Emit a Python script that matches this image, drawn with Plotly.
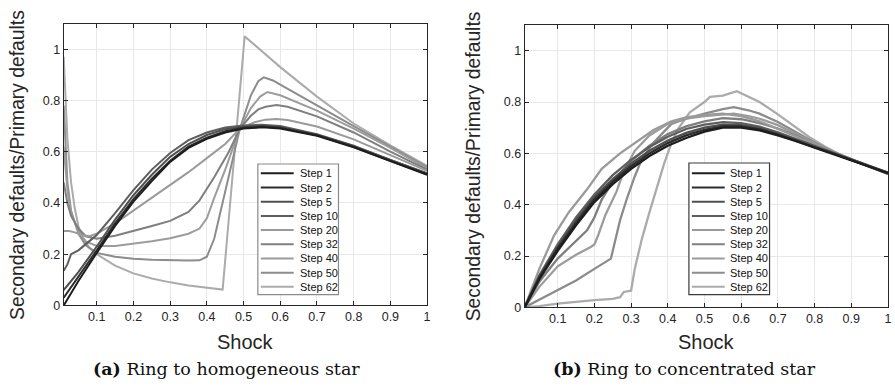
import plotly.graph_objects as go

W, H = 895, 390

STEPS = ["Step 1", "Step 2", "Step 5", "Step 10", "Step 20", "Step 32", "Step 40", "Step 50", "Step 62"]
COLORS = ["#1e1e1e", "#2c2c2c", "#4f4f4f", "#5e5e5e", "#9a9a9a", "#7f7f7f", "#9c9c9c", "#8c8c8c", "#ababab"]

X_TICKS = [0.1, 0.2, 0.3, 0.4, 0.5, 0.6, 0.7, 0.8, 0.9, 1.0]
X_TICKTEXT = ["0.1", "0.2", "0.3", "0.4", "0.5", "0.6", "0.7", "0.8", "0.9", "1"]
Y_TICKS = [0, 0.2, 0.4, 0.6, 0.8, 1.0]
Y_TICKTEXT = ["0", "0.2", "0.4", "0.6", "0.8", "1"]

# ---------------- (a) Ring to homogeneous star ----------------
A1_X = [0.01, 0.05, 0.1, 0.15, 0.2, 0.25, 0.3, 0.35, 0.4, 0.45, 0.5, 0.55, 0.6, 0.7, 0.8, 0.9, 1.0]
A1_Y = [0.0, 0.095, 0.205, 0.31, 0.405, 0.485, 0.56, 0.615, 0.65, 0.675, 0.69, 0.695, 0.69, 0.662, 0.617, 0.562, 0.51]
A2_X = A1_X
A2_Y = [0.03, 0.11, 0.215, 0.32, 0.415, 0.495, 0.565, 0.62, 0.655, 0.68, 0.693, 0.698, 0.693, 0.664, 0.619, 0.564, 0.512]
A5_X = A1_X
A5_Y = [0.06, 0.13, 0.23, 0.335, 0.43, 0.51, 0.58, 0.63, 0.665, 0.688, 0.697, 0.7, 0.695, 0.666, 0.621, 0.566, 0.514]
A10_X = [0.01, 0.02, 0.03, 0.05, 0.075, 0.1, 0.15, 0.2, 0.25, 0.3, 0.35, 0.4, 0.45, 0.5, 0.55, 0.6, 0.7, 0.8, 0.9, 1.0]
A10_Y = [0.135, 0.16, 0.2, 0.215, 0.245, 0.275, 0.36, 0.45, 0.53, 0.595, 0.645, 0.675, 0.694, 0.702, 0.705, 0.7, 0.668, 0.623, 0.568, 0.516]
A20_X = [0.01, 0.025, 0.04, 0.06, 0.08, 0.1, 0.15, 0.2, 0.25, 0.3, 0.35, 0.4, 0.45, 0.49, 0.53, 0.56, 0.59, 0.62, 0.7, 0.8, 0.9, 1.0]
A20_Y = [0.29, 0.29, 0.285, 0.275, 0.27, 0.28, 0.32, 0.37, 0.42, 0.47, 0.52, 0.575, 0.63, 0.69, 0.715, 0.725, 0.728, 0.724, 0.698, 0.648, 0.585, 0.525]
A32_X = [0.01, 0.02, 0.03, 0.05, 0.07, 0.1, 0.15, 0.2, 0.25, 0.3, 0.35, 0.38, 0.42, 0.46, 0.49, 0.52, 0.54, 0.56, 0.59, 0.62, 0.7, 0.8, 0.9, 1.0]
A32_Y = [0.48, 0.4, 0.35, 0.3, 0.27, 0.26, 0.272, 0.29, 0.31, 0.33, 0.365, 0.41, 0.5, 0.6, 0.69, 0.74, 0.765, 0.775, 0.782, 0.775, 0.738, 0.675, 0.6, 0.53]
A40_X = [0.01, 0.02, 0.03, 0.05, 0.07, 0.1, 0.15, 0.2, 0.25, 0.3, 0.35, 0.38, 0.4, 0.42, 0.45, 0.49, 0.52, 0.545, 0.565, 0.6, 0.7, 0.8, 0.9, 1.0]
A40_Y = [0.62, 0.45, 0.36, 0.29, 0.25, 0.232, 0.232, 0.24, 0.25, 0.262, 0.28, 0.3, 0.34, 0.42, 0.53, 0.69, 0.77, 0.815, 0.833, 0.82, 0.76, 0.69, 0.615, 0.535]
A50_X = [0.01, 0.015, 0.02, 0.03, 0.05, 0.07, 0.1, 0.15, 0.2, 0.25, 0.3, 0.35, 0.38, 0.4, 0.42, 0.44, 0.46, 0.47, 0.49, 0.52, 0.54, 0.555, 0.58, 0.6, 0.7, 0.8, 0.9, 1.0]
A50_Y = [0.78, 0.6, 0.48, 0.37, 0.28, 0.235, 0.205, 0.19, 0.182, 0.178, 0.176, 0.175, 0.176, 0.19, 0.26, 0.38, 0.5, 0.56, 0.69, 0.82, 0.875, 0.89, 0.878, 0.862, 0.78, 0.7, 0.62, 0.54]
A62_X = [0.01, 0.015, 0.02, 0.03, 0.04, 0.05, 0.06, 0.08, 0.1, 0.15, 0.2, 0.25, 0.3, 0.35, 0.4, 0.443, 0.503, 0.55, 0.6, 0.7, 0.8, 0.9, 1.0]
A62_Y = [0.97, 0.8, 0.65, 0.48, 0.38, 0.31, 0.27, 0.225, 0.2, 0.155, 0.125, 0.105, 0.09, 0.078, 0.068, 0.062, 1.05, 0.99, 0.93, 0.815, 0.71, 0.625, 0.545]

# ---------------- (b) Ring to concentrated star ----------------
B1_X = [0.01, 0.05, 0.1, 0.15, 0.2, 0.25, 0.3, 0.35, 0.4, 0.45, 0.5, 0.55, 0.6, 0.65, 0.7, 0.75, 0.8, 0.85, 0.9, 0.95, 1.0]
B1_Y = [0.0, 0.11, 0.22, 0.32, 0.41, 0.48, 0.54, 0.59, 0.63, 0.66, 0.685, 0.7, 0.7, 0.69, 0.67, 0.648, 0.622, 0.598, 0.572, 0.548, 0.522]
B2_X = B1_X
B2_Y = [0.0, 0.115, 0.23, 0.33, 0.42, 0.49, 0.55, 0.6, 0.64, 0.67, 0.692, 0.705, 0.705, 0.694, 0.673, 0.65, 0.624, 0.6, 0.574, 0.55, 0.523]
B5_X = B1_X
B5_Y = [0.0, 0.12, 0.235, 0.34, 0.43, 0.5, 0.56, 0.61, 0.65, 0.68, 0.7, 0.712, 0.71, 0.698, 0.676, 0.653, 0.626, 0.601, 0.575, 0.55, 0.524]
B10_X = B1_X
B10_Y = [0.0, 0.125, 0.245, 0.35, 0.44, 0.515, 0.575, 0.625, 0.665, 0.695, 0.712, 0.722, 0.718, 0.704, 0.682, 0.657, 0.629, 0.603, 0.577, 0.551, 0.525]
B20_X = [0.01, 0.05, 0.09, 0.13, 0.18, 0.22, 0.27, 0.32, 0.36, 0.41, 0.45, 0.5, 0.55, 0.6, 0.65, 0.7, 0.75, 0.8, 0.85, 0.9, 0.95, 1.0]
B20_Y = [0.0, 0.15, 0.28, 0.37, 0.46, 0.54, 0.6, 0.65, 0.69, 0.725, 0.74, 0.75, 0.755, 0.745, 0.725, 0.695, 0.665, 0.635, 0.605, 0.577, 0.55, 0.523]
B32_X = [0.01, 0.05, 0.1, 0.15, 0.18, 0.2, 0.22, 0.25, 0.3, 0.35, 0.4, 0.45, 0.5, 0.55, 0.6, 0.65, 0.7, 0.75, 0.8, 0.85, 0.9, 0.95, 1.0]
B32_Y = [0.0, 0.1, 0.19, 0.26, 0.3, 0.35, 0.42, 0.49, 0.57, 0.63, 0.675, 0.705, 0.725, 0.737, 0.733, 0.718, 0.697, 0.668, 0.634, 0.602, 0.574, 0.548, 0.521]
B40_X = [0.01, 0.05, 0.1, 0.15, 0.19, 0.2, 0.21, 0.23, 0.26, 0.28, 0.31, 0.35, 0.4, 0.45, 0.5, 0.55, 0.58, 0.62, 0.65, 0.7, 0.75, 0.8, 0.85, 0.9, 0.95, 1.0]
B40_Y = [0.0, 0.08, 0.16, 0.205, 0.235, 0.245, 0.28, 0.36, 0.45, 0.53, 0.61, 0.67, 0.715, 0.735, 0.745, 0.752, 0.755, 0.745, 0.735, 0.71, 0.675, 0.638, 0.603, 0.574, 0.547, 0.52]
B50_X = [0.01, 0.05, 0.1, 0.15, 0.2, 0.235, 0.245, 0.255, 0.27, 0.29, 0.31, 0.33, 0.36, 0.38, 0.41, 0.45, 0.5, 0.55, 0.58, 0.62, 0.65, 0.7, 0.75, 0.8, 0.85, 0.9, 0.95, 1.0]
B50_Y = [0.0, 0.03, 0.07, 0.105, 0.15, 0.18, 0.19, 0.25, 0.34, 0.43, 0.51, 0.58, 0.64, 0.67, 0.715, 0.735, 0.755, 0.772, 0.78, 0.768, 0.755, 0.722, 0.682, 0.642, 0.607, 0.576, 0.548, 0.52]
B62_X = [0.01, 0.05, 0.1, 0.15, 0.2, 0.25, 0.27, 0.28, 0.3, 0.31, 0.33, 0.35, 0.37, 0.39, 0.41, 0.43, 0.46, 0.48, 0.5, 0.515, 0.55, 0.588, 0.62, 0.65, 0.7, 0.75, 0.786, 0.83, 0.877, 0.93, 1.0]
B62_Y = [0.0, 0.005, 0.015, 0.022, 0.028, 0.033, 0.04, 0.06, 0.065, 0.15, 0.27, 0.37, 0.47, 0.56, 0.64, 0.7, 0.76, 0.78, 0.8, 0.82, 0.825, 0.842, 0.82, 0.8, 0.752, 0.7, 0.663, 0.625, 0.59, 0.56, 0.522]

A_SERIES = [(A1_X, A1_Y), (A2_X, A2_Y), (A5_X, A5_Y), (A10_X, A10_Y), (A20_X, A20_Y),
            (A32_X, A32_Y), (A40_X, A40_Y), (A50_X, A50_Y), (A62_X, A62_Y)]
B_SERIES = [(B1_X, B1_Y), (B2_X, B2_Y), (B5_X, B5_Y), (B10_X, B10_Y), (B20_X, B20_Y),
            (B32_X, B32_Y), (B40_X, B40_Y), (B50_X, B50_Y), (B62_X, B62_Y)]

fig = go.Figure()
for i in reversed(range(len(STEPS))):
    xs, ys = A_SERIES[i]
    fig.add_trace(go.Scatter(x=xs, y=ys, mode="lines", name=STEPS[i],
                             line=dict(color=COLORS[i], width=2), showlegend=False,
                             xaxis="x", yaxis="y"))
for i in reversed(range(len(STEPS))):
    xs, ys = B_SERIES[i]
    fig.add_trace(go.Scatter(x=xs, y=ys, mode="lines", name=STEPS[i],
                             line=dict(color=COLORS[i], width=2.3), showlegend=False,
                             xaxis="x2", yaxis="y2"))


def px(x):
    return x / W


def py(y):
    return 1 - y / H


FONT = "Liberation Sans, Arial, sans-serif"
AXC = "#262626"

axis_common = dict(
    showline=True, linecolor=AXC, linewidth=1, mirror="ticks",
    ticks="inside", ticklen=4, tickcolor=AXC, tickwidth=1,
    showgrid=True, gridcolor="#e8e8e8", gridwidth=1, zeroline=False,
    tickfont=dict(family=FONT, size=12.5, color=AXC),
)

fig.update_layout(
    width=W, height=H,
    margin=dict(l=0, r=0, t=0, b=0),
    paper_bgcolor="white", plot_bgcolor="white",
    showlegend=False,
    xaxis=dict(domain=[px(64), px(429)], range=[0.01, 1], tickvals=X_TICKS, ticktext=X_TICKTEXT,
               anchor="y", **axis_common),
    yaxis=dict(domain=[py(311), py(24)], range=[0, 1.1], tickvals=Y_TICKS, ticktext=Y_TICKTEXT,
               anchor="x", **axis_common),
    xaxis2=dict(domain=[px(527), px(892)], range=[0.01, 1], tickvals=X_TICKS, ticktext=X_TICKTEXT,
                anchor="y2", **axis_common),
    yaxis2=dict(domain=[py(313), py(25.5)], range=[0, 1.1], tickvals=Y_TICKS, ticktext=Y_TICKTEXT,
                anchor="x2", **axis_common),
)

annotations = []
shapes = []

# axis titles
for cx in (246.5, 709.5):
    annotations.append(dict(x=px(cx), y=py(348), xref="paper", yref="paper", text="Shock",
                            showarrow=False, xanchor="center", yanchor="middle",
                            font=dict(family=FONT, size=20, color=AXC)))
for cx, cy in ((17.5, 167.5), (476, 169.5)):
    annotations.append(dict(x=px(cx), y=py(cy), xref="paper", yref="paper",
                            text="Secondary defaults/Primary defaults", textangle=-90,
                            showarrow=False, xanchor="center", yanchor="middle",
                            font=dict(family=FONT, size=19.3, color=AXC)))

# captions
CAPTIONS = ["<b>(a)</b> Ring to homogeneous star", "<b>(b)</b> Ring to concentrated star"]
for cx, txt in zip((228, 688), CAPTIONS):
    annotations.append(dict(x=px(cx), y=py(376), xref="paper", yref="paper", text=txt,
                            showarrow=False, xanchor="center", yanchor="middle",
                            font=dict(family="DejaVu Serif, serif", size=17.5, color="#111111")))

# legends (boxed, MATLAB style)
for bx0, bx1, by0, by1, lx0, lx1, tx, bcol in ((259, 340, 167, 300, 262, 295, 299, "#8a8a8a"),
                                              (692, 773, 166, 300, 695, 728, 731, "#3a3a3a")):
    shapes.append(dict(type="rect", xref="paper", yref="paper",
                       x0=px(bx0), x1=px(bx1), y0=py(by1), y1=py(by0),
                       line=dict(color=bcol, width=1.2), fillcolor="white", layer="above"))
    for i, (name, col) in enumerate(zip(STEPS, COLORS)):
        yy = 176.5 + i * 14.45
        shapes.append(dict(type="line", xref="paper", yref="paper",
                           x0=px(lx0), x1=px(lx1), y0=py(yy), y1=py(yy),
                           line=dict(color=col, width=2), layer="above"))
        annotations.append(dict(x=px(tx), y=py(yy), xref="paper", yref="paper", text=name,
                                showarrow=False, xanchor="left", yanchor="middle",
                                font=dict(family=FONT, size=11, color="#111111")))

fig.update_layout(annotations=annotations, shapes=shapes)
fig.write_html("out.html")
